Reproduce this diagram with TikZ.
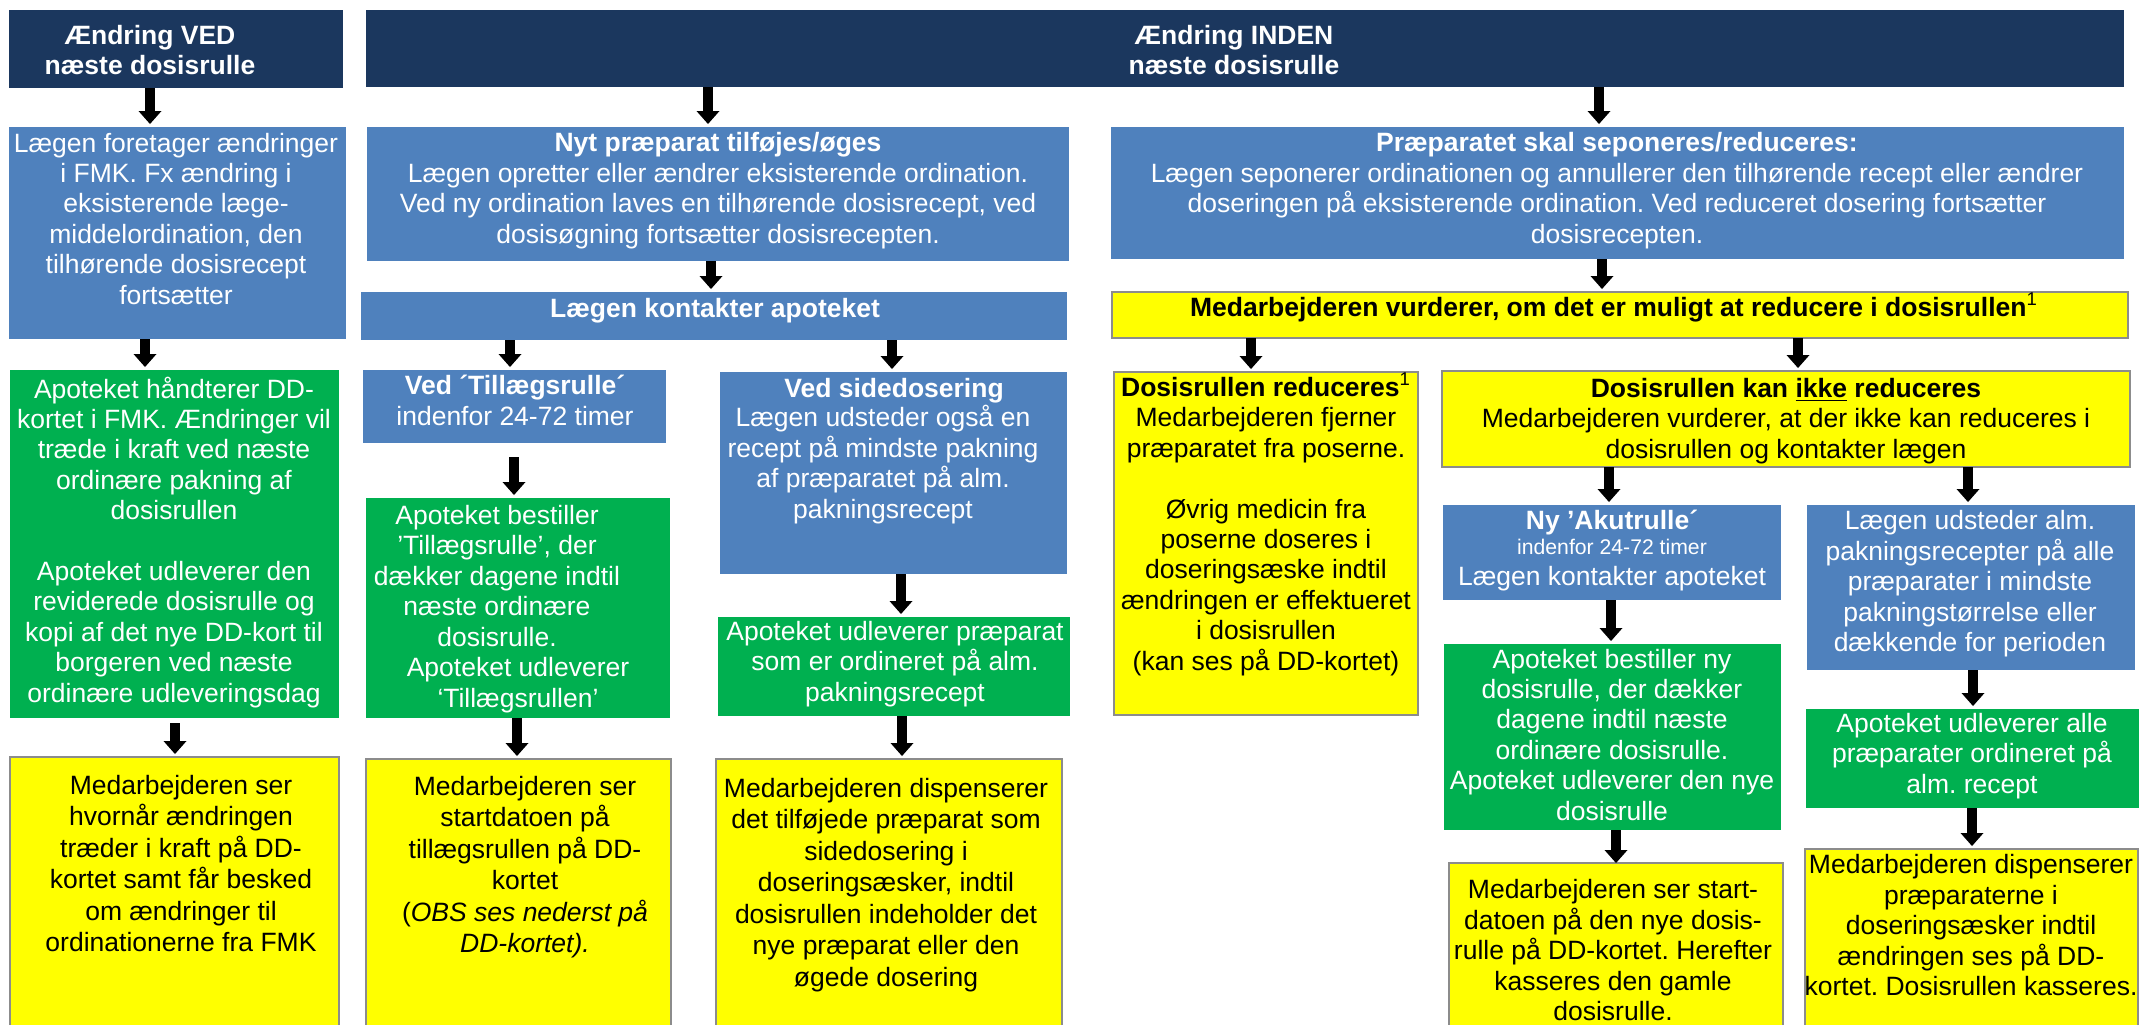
\documentclass[tikz,border=0pt]{standalone}
\usepackage{fontspec}
\setmainfont{Liberation Sans}
\usetikzlibrary{arrows.meta}
\frenchspacing
\definecolor{navy}{RGB}{27,55,94}
\definecolor{ablue}{RGB}{79,129,189}
\definecolor{agreen}{RGB}{0,176,80}
\definecolor{ayellow}{RGB}{255,255,0}
\definecolor{bgray}{RGB}{140,140,140}
\newcommand\fs{\fontsize{13.25pt}{15.2pt}\selectfont}
\newcommand\fsy{\fontsize{13.25pt}{15.75pt}\selectfont}
\newcommand\fsmall{\fontsize{10.6pt}{12pt}\selectfont}
\newcommand\mkbox[6]{\node[#2, minimum width={(#5-#3)*0.5pt}, minimum height={(#6-#4)*0.5pt}] (#1) at (#3,#4) {};}
\newcommand\arw[4][]{\coordinate (x#2#3) at (#4,0); \draw[arr,#1] (#2.south -| x#2#3) -- (#3.north -| x#2#3);}
\tikzset{
  bx/.style={rectangle, inner sep=0pt, outer sep=0pt, anchor=north west},
  navybox/.style={bx, fill=navy},
  bluebox/.style={bx, fill=ablue},
  greenbox/.style={bx, fill=agreen},
  yelbox/.style={bx, fill=ayellow, draw=bgray, line width=0.9pt},
  arr/.style={line width=5pt, -{Triangle[length=6.5pt, width=11.5pt, line width=0pt]}, shorten >=1.5pt},
  % text nodes are placed by the baseline of their LAST line
  wtxt/.style={align=center, inner sep=0pt, anchor=base, font=\fs, text=white},
  btxt/.style={align=center, inner sep=0pt, anchor=base, font=\fs, text=black},
  ytxt/.style={align=center, inner sep=0pt, anchor=base, font=\fsy, text=black},
}
\begin{document}
\begin{tikzpicture}[x=0.5pt, y=-0.5pt]
\useasboundingbox (0,0) rectangle (2140,1024);
\clip (0,0) rectangle (2140,1024);
\fill[white] (0,0) rectangle (2140,1024);
% boxes
\mkbox{H1}{navybox}{9}{10}{343}{88}
\mkbox{H2}{navybox}{366}{10}{2124}{87}
\mkbox{B1}{bluebox}{9}{127}{346}{339}
\mkbox{P1}{bluebox}{367}{127}{1069}{261}
\mkbox{K}{bluebox}{361}{292}{1067}{340}
\mkbox{R1}{bluebox}{1111}{127}{2124}{259}
\mkbox{M}{yelbox}{1112}{292}{2128}{338}
\mkbox{G1}{greenbox}{10}{370}{339}{718}
\mkbox{T1}{bluebox}{363}{370}{666}{443}
\mkbox{S1}{bluebox}{720}{372}{1067}{574}
\mkbox{T2}{greenbox}{366}{498}{670}{718}
\mkbox{S2}{greenbox}{718}{617}{1070}{716}
\mkbox{Y1}{yelbox}{10}{757}{339}{1040}
\mkbox{T3}{yelbox}{366}{759}{671}{1040}
\mkbox{S3}{yelbox}{716}{759}{1062}{1040}
\mkbox{D1}{yelbox}{1114}{372}{1418}{715}
\mkbox{D2}{yelbox}{1442}{371}{2130}{467}
\mkbox{A1}{bluebox}{1443}{505}{1781}{600}
\mkbox{L1}{bluebox}{1807}{505}{2135}{670}
\mkbox{A2}{greenbox}{1444}{644}{1781}{830}
\mkbox{L2}{greenbox}{1806}{709}{2139}{808}
\mkbox{A3}{yelbox}{1449}{863}{1783}{1040}
\mkbox{L3}{yelbox}{1805}{849}{2138}{1040}
% arrows
\arw{H1}{B1}{150}
\arw{H2}{P1}{708}
\arw{H2}{R1}{1599}
\arw{P1}{K}{711}
\arw{R1}{M}{1602}
\arw{B1}{G1}{145}
\arw{K}{T1}{510}
\arw{K}{S1}{892}
\arw{M}{D1}{1251}
\arw{M}{D2}{1798}
\arw[shorten <=7pt]{T1}{T2}{514}
\arw{S1}{S2}{901}
\arw{D2}{A1}{1609}
\arw{D2}{L1}{1968}
\arw{A1}{A2}{1611}
\arw{L1}{L2}{1973}
\arw[shorten <=2.5pt]{G1}{Y1}{175}
\arw{T2}{T3}{517}
\arw{S2}{S3}{902}
\arw[shorten >=0pt]{A2}{A3}{1616}
\arw{L2}{L3}{1972}
% texts (y = baseline of the last line)
\node[wtxt, font=\fs\bfseries] (H1t) at (150,74.5) {Ændring VED\\næste dosisrulle};
\node[wtxt, font=\fs\bfseries] (H2t) at (1234,74.5) {Ændring INDEN\\næste dosisrulle};
\node[wtxt] (B1t) at (176,304) {Lægen foretager ændringer\\i FMK. Fx ændring i\\eksisterende læge-\\middelordination, den\\tilhørende dosisrecept\\fortsætter};
\node[wtxt] (P1t) at (718,243) {\textbf{Nyt præparat tilføjes/øges}\\Lægen opretter eller ændrer eksisterende ordination.\\Ved ny ordination laves en tilhørende dosisrecept, ved\\dosisøgning fortsætter dosisrecepten.};
\node[wtxt, font=\fs\bfseries] (Kt) at (715,317) {Lægen kontakter apoteket};
\node[wtxt] (R1t) at (1617,243) {\textbf{Præparatet skal seponeres/reduceres:}\\Lægen seponerer ordinationen og annullerer den tilhørende recept eller ændrer\\doseringen på eksisterende ordination. Ved reduceret dosering fortsætter\\dosisrecepten.};
\node[btxt] (Mt) at (1614,316) {\textbf{Medarbejderen vurderer, om det er muligt at reducere i dosisrullen}\textsuperscript{1}};
\node[wtxt] (G1t) at (174,702) {Apoteket håndterer DD-\\kortet i FMK. Ændringer vil\\træde i kraft ved næste\\ordinære pakning af\\dosisrullen\\~\\Apoteket udleverer den\\reviderede dosisrulle og\\kopi af det nye DD-kort til\\borgeren ved næste\\ordinære udleveringsdag};
\node[wtxt] (T1t) at (515,425) {\textbf{Ved ´Tillægsrulle´}\\indenfor 24-72 timer};
\node[wtxt, font=\fs\bfseries] (S1h) at (894,397) {Ved sidedosering};
\node[wtxt] (S1t) at (883,518) {Lægen udsteder også en\\recept på mindste pakning\\af præparatet på alm.\\pakningsrecept};
\node[wtxt] (T2t) at (497,646) {Apoteket bestiller\\’Tillægsrulle’, der\\dækker dagene indtil\\næste ordinære\\dosisrulle.};
\node[wtxt] (T2u) at (518,707) {Apoteket udleverer\\‘Tillægsrullen’};
\node[wtxt] (S2t) at (895,701) {Apoteket udleverer præparat\\som er ordineret på alm.\\pakningsrecept};
\node[ytxt] (Y1t) at (181,951.5) {Medarbejderen ser\\hvornår ændringen\\træder i kraft på DD-\\kortet samt får besked\\om ændringer til\\ordinationerne fra FMK};
\node[ytxt] (T3t) at (525,952.5) {Medarbejderen ser\\startdatoen på\\tillægsrullen på DD-\\kortet\\(\textit{OBS ses nederst på}\\\textit{DD-kortet).}};
\node[ytxt] (S3t) at (886,986) {Medarbejderen dispenserer\\det tilføjede præparat som\\sidedosering i\\doseringsæsker, indtil\\dosisrullen indeholder det\\nye præparat eller den\\øgede dosering};
\node[btxt] (D1t) at (1266,670) {\textbf{Dosisrullen reduceres}\textsuperscript{1}\\Medarbejderen fjerner\\præparatet fra poserne.\\~\\Øvrig medicin fra\\poserne doseres i\\doseringsæske indtil\\ændringen er effektueret\\i dosisrullen\\(kan ses på DD-kortet)};
\node[btxt] (D2t) at (1786,458) {\textbf{Dosisrullen kan \underline{ikke} reduceres}\\Medarbejderen vurderer, at der ikke kan reduceres i\\dosisrullen og kontakter lægen};
\node[wtxt] (A1t) at (1612,585) {\textbf{Ny ’Akutrulle´}\\[-2.7pt]{\fsmall indenfor 24-72 timer}\\Lægen kontakter apoteket};
\node[wtxt] (A2t) at (1612,820) {Apoteket bestiller ny\\dosisrulle, der dækker\\dagene indtil næste\\ordinære dosisrulle.\\Apoteket udleverer den nye\\dosisrulle};
\node[btxt] (A3t) at (1613,1020.5) {Medarbejderen ser start-\\datoen på den nye dosis-\\rulle på DD-kortet. Herefter\\kasseres den gamle\\dosisrulle.};
\node[wtxt] (L1t) at (1970,651.5) {Lægen udsteder alm.\\pakningsrecepter på alle\\præparater i mindste\\pakningstørrelse eller\\dækkende for perioden};
\node[wtxt] (L2t) at (1972,793) {Apoteket udleverer alle\\præparater ordineret på\\alm. recept};
\node[btxt] (L3t) at (1971,995.5) {Medarbejderen dispenserer\\præparaterne i\\doseringsæsker indtil\\ændringen ses på DD-\\kortet. Dosisrullen kasseres.};
\end{tikzpicture}
\end{document}
